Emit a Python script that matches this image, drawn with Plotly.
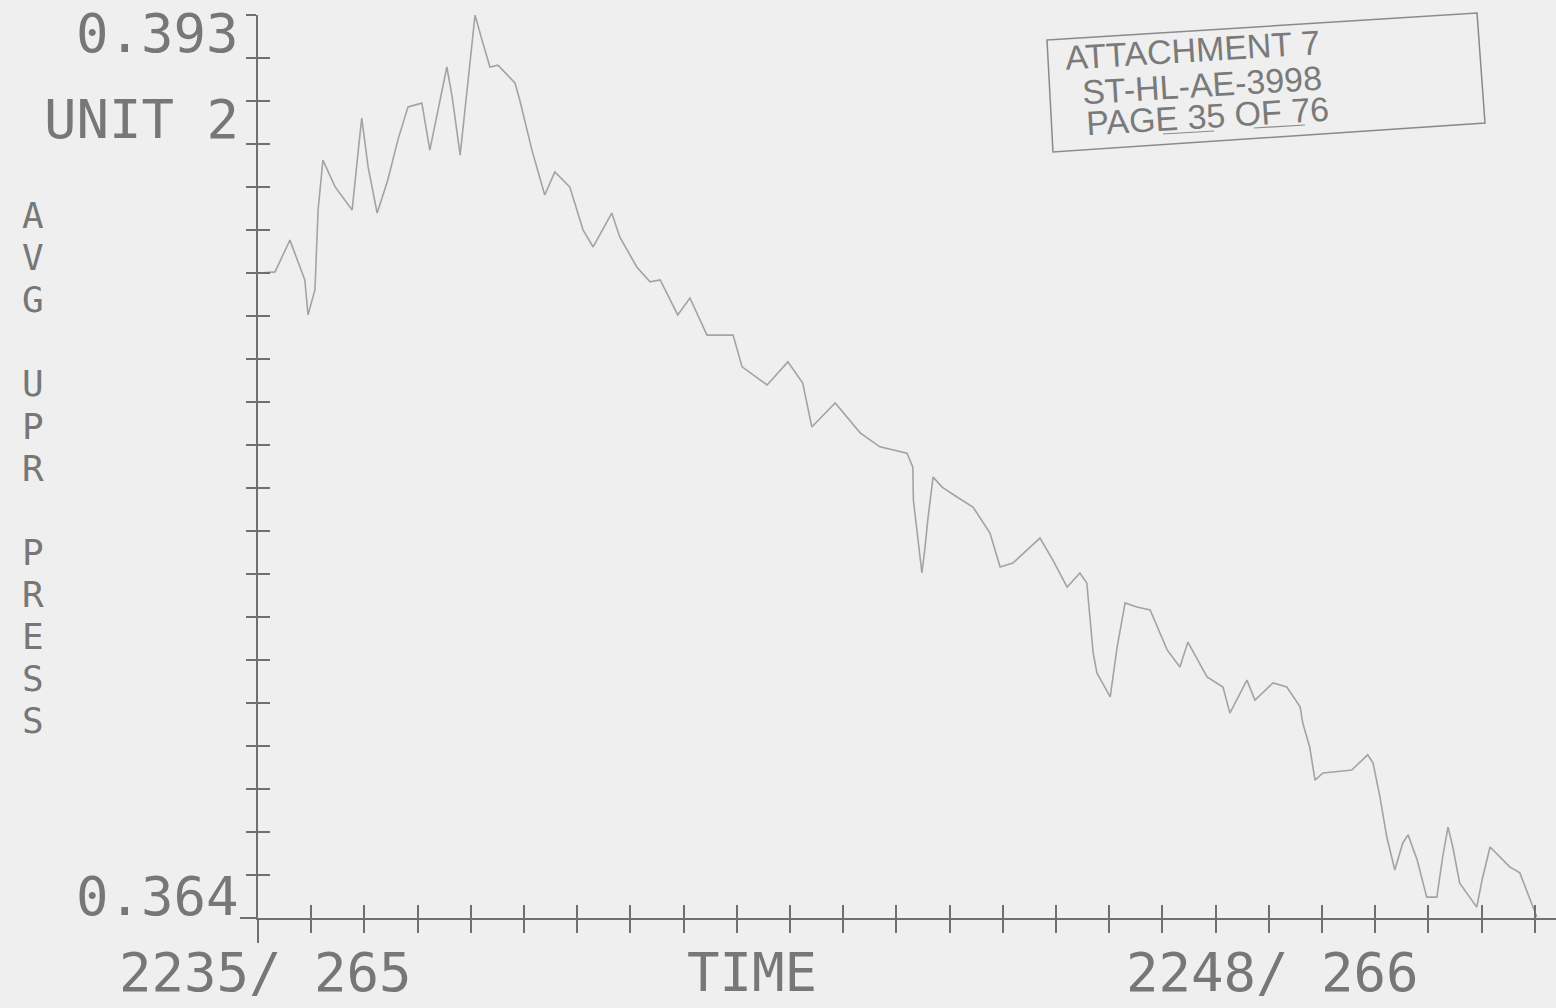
import plotly.graph_objects as go

# ---------------- data ----------------
time_idx = [0.04, 0.32, 0.60, 0.88, 0.94, 1.07, 1.13, 1.22, 1.45, 1.77,
            1.88, 1.95, 2.07, 2.24, 2.44, 2.63, 2.82, 3.08, 3.23, 3.38,
            3.55, 3.65, 3.80, 3.95, 4.08, 4.21, 4.36, 4.51, 4.83, 4.92,
            5.15, 5.39, 5.58, 5.86, 6.11, 6.30, 6.65, 6.80, 7.12, 7.37,
            7.56, 7.89, 8.12, 8.44, 8.93, 9.10, 9.57, 9.96, 10.24, 10.41,
            10.85, 11.32, 11.69, 12.20, 12.31, 12.32, 12.48, 12.54, 12.59, 12.69,
            12.86, 13.14, 13.44, 13.76, 13.95, 14.19, 14.70, 14.94, 15.21, 15.45,
            15.58, 15.70, 15.77, 16.02, 16.15, 16.30, 16.52, 16.77, 16.95, 17.09,
            17.33, 17.48, 17.84, 18.14, 18.27, 18.59, 18.74, 19.08, 19.34, 19.59,
            19.64, 19.77, 19.87, 20.02, 20.21, 20.56, 20.86, 20.96, 21.09, 21.22,
            21.37, 21.52, 21.62, 21.79, 21.97, 22.16, 22.27, 22.37, 22.46, 22.59,
            22.91, 23.01, 23.16, 23.53, 23.72, 23.97, 24.04]

avg_upr_press = [0.38471, 0.38475, 0.38577, 0.38449, 0.38337, 0.38417, 0.38674, 0.38834, 0.38748, 0.38674,
                 0.38857, 0.38969, 0.38812, 0.38664, 0.38770, 0.38899, 0.39005, 0.39017, 0.38866, 0.38995,
                 0.39133, 0.39037, 0.38850, 0.39091, 0.39300, 0.39220, 0.39133, 0.39139, 0.39082, 0.39027,
                 0.38866, 0.38722, 0.38796, 0.38748, 0.38610, 0.38555, 0.38664, 0.38587, 0.38491, 0.38443,
                 0.38449, 0.38337, 0.38391, 0.38272, 0.38272, 0.38170, 0.38112, 0.38186, 0.38118, 0.37977,
                 0.38054, 0.37958, 0.37913, 0.37893, 0.37848, 0.37742, 0.37508, 0.37592, 0.37678, 0.37816,
                 0.37784, 0.37752, 0.37720, 0.37636, 0.37527, 0.37540, 0.37620, 0.37550, 0.37463, 0.37508,
                 0.37476, 0.37251, 0.37187, 0.37110, 0.37270, 0.37412, 0.37399, 0.37389, 0.37315, 0.37261,
                 0.37206, 0.37286, 0.37174, 0.37142, 0.37058, 0.37164, 0.37100, 0.37155, 0.37142, 0.37078,
                 0.37026, 0.36949, 0.36843, 0.36866, 0.36869, 0.36875, 0.36924, 0.36898, 0.36789, 0.36660,
                 0.36554, 0.36641, 0.36667, 0.36586, 0.36467, 0.36467, 0.36596, 0.36692, 0.36628, 0.36512,
                 0.36435, 0.36522, 0.36628, 0.36564, 0.36545, 0.36435, 0.36403]

y_min, y_max = 0.364, 0.393
y_labels = ["0.393", "0.364"]
unit_label = "UNIT 2"
y_title = "AVG UPR PRESS"
x_labels = ["2235/ 265", "TIME", "2248/ 266"]
stamp_lines = ["ATTACHMENT 7", "ST-HL-AE-3998", "PAGE 35 OF 76"]

# ---------------- layout geometry ----------------
W, H = 1556, 1008
ML, MR, MT, MB = 258, 0, 15, 90
PW, PH = W - ML - MR, H - MT - MB
X_MAX = 24.4
N_YDIV = 21


def px(xp):
    return (xp - ML) / PW


def py(yp):
    return (H - MB - yp) / PH


BG = "#efefef"
AXC = "#6f6f6f"
TXT = "#777777"
LINEC = "#a3a3a3"
MONO = "DejaVu Sans Mono, Liberation Mono, monospace"
NARROW = "Liberation Sans Narrow, Liberation Sans, Arial, sans-serif"

fig = go.Figure()
fig.add_trace(go.Scatter(x=time_idx, y=avg_upr_press, mode="lines",
                         line=dict(color=LINEC, width=1.6), showlegend=False,
                         hoverinfo="skip"))
# helper trace for the overlay axes (ticks crossing the axis lines)
fig.add_trace(go.Scatter(x=time_idx, y=avg_upr_press, mode="lines", xaxis="x2", yaxis="y2",
                         line=dict(color="rgba(0,0,0,0)", width=0), showlegend=False,
                         hoverinfo="skip"))

ydt = (y_max - y_min) / N_YDIV
common_x = dict(range=[0, X_MAX], tick0=0, dtick=1, showgrid=False, zeroline=False,
                showticklabels=False, tickcolor=AXC, tickwidth=2, ticklen=13)
common_y = dict(range=[y_min, y_max], tick0=y_min, dtick=ydt, showgrid=False, zeroline=False,
                showticklabels=False, tickcolor=AXC, tickwidth=2)

fig.update_layout(
    width=W, height=H,
    margin=dict(l=ML, r=MR, t=MT, b=MB, pad=0),
    paper_bgcolor=BG, plot_bgcolor=BG,
    xaxis=dict(**common_x, ticks="outside", showline=True, linecolor=AXC, linewidth=2),
    yaxis=dict(**common_y, ticks="outside", ticklen=10, showline=True, linecolor=AXC, linewidth=2),
    xaxis2=dict(**common_x, ticks="inside", overlaying="x", anchor="y", side="bottom", showline=False),
    yaxis2=dict(**common_y, ticks="inside", ticklen=12, overlaying="y", anchor="x", side="left", showline=False),
)

shapes = [
    dict(type="line", xref="paper", yref="paper", x0=px(258), x1=px(258), y0=py(918), y1=py(943),
         line=dict(color=AXC, width=2)),
    dict(type="line", xref="paper", yref="paper", x0=px(240), x1=px(258), y0=py(918), y1=py(918),
         line=dict(color=AXC, width=2)),
]
# stamp box
corners = [(1047, 40), (1477, 13), (1485, 123), (1053, 152)]
path = "M " + " L ".join(f"{px(a):.5f},{py(b):.5f}" for a, b in corners) + " Z"
shapes.append(dict(type="path", xref="paper", yref="paper", path=path,
                   line=dict(color="#8a8a8a", width=1.5)))
for (x0, y0, x1, y1) in [(1163, 134, 1214, 131), (1254, 128, 1305, 125)]:
    shapes.append(dict(type="line", xref="paper", yref="paper", x0=px(x0), y0=py(y0),
                       x1=px(x1), y1=py(y1), line=dict(color="#8a8a8a", width=1.2)))
fig.update_layout(shapes=shapes)

ann = []
ann.append(dict(text=y_labels[0], x=px(241), y=py(33), xanchor="right", yanchor="middle"))
ann.append(dict(text=unit_label, x=px(241), y=py(119), xanchor="right", yanchor="middle"))
ann.append(dict(text=y_labels[1], x=px(241), y=py(896), xanchor="right", yanchor="middle"))
ann.append(dict(text=x_labels[0], x=px(265), y=py(1006), xanchor="center", yanchor="bottom"))
ann.append(dict(text=x_labels[1], x=px(752), y=py(1006), xanchor="center", yanchor="bottom"))
ann.append(dict(text=x_labels[2], x=px(1272), y=py(1006), xanchor="center", yanchor="bottom"))
for a in ann:
    a.update(xref="paper", yref="paper", showarrow=False,
             font=dict(family=MONO, size=54, color=TXT))

# vertical stacked axis title (printer cells: one letter per line)
cells = [("<span style='font-size:36px'>%s</span>" % ch) if ch != " " else "\u00a0"
         for ch in y_title]
ann.append(dict(text="<br>".join(cells), x=px(33), y=py(468), xref="paper", yref="paper",
                xanchor="center", yanchor="middle", showarrow=False, align="center",
                font=dict(family=MONO, size=32.4, color=TXT)))

# stamp text
stamp_pos = [(1192, 50), (1202, 85), (1207, 116)]
for t, (xc, yc) in zip(stamp_lines, stamp_pos):
    ann.append(dict(text=t, x=px(xc), y=py(yc), xref="paper", yref="paper",
                    xanchor="center", yanchor="middle", showarrow=False, textangle=-3.5,
                    font=dict(family=NARROW, size=34, color="#7a7a7a")))

fig.update_layout(annotations=ann)
fig.write_html("out.html", config={"displayModeBar": False},
               post_script="document.body.style.margin='0';"
                           "document.body.style.background='#efefef';")
